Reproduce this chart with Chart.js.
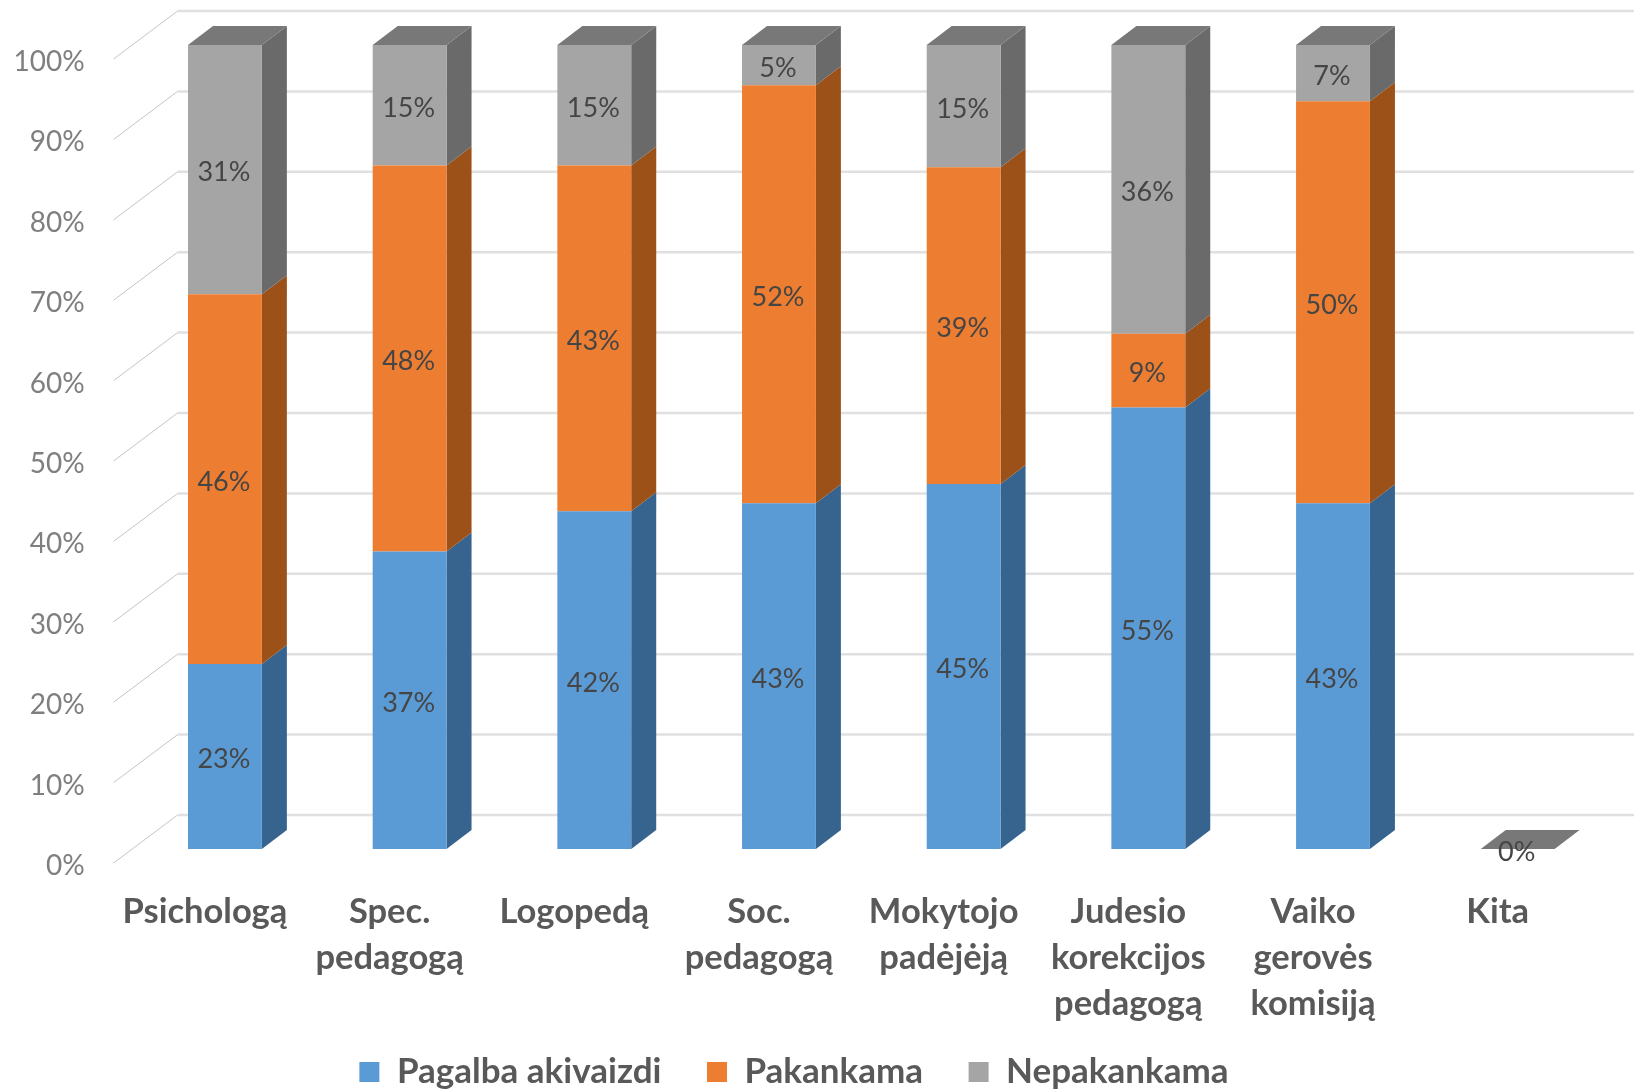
<!DOCTYPE html>
<html lang="lt">
<head>
<meta charset="UTF-8">
<title>Pagalba</title>
<script src="https://cdn.jsdelivr.net/npm/chart.js"></script>
<style>
    html, body { margin: 0; padding: 0; background: #fff; overflow: hidden; }
    canvas { display: block; }
</style>
</head>
<body>
<canvas id="chart" width="1634" height="1091"></canvas>
<script>
const categories = [
    'Psichologą',
    ['Spec.', 'pedagogą'],
    'Logopedą',
    ['Soc.', 'pedagogą'],
    ['Mokytojo', 'padėjėją'],
    ['Judesio', 'korekcijos', 'pedagogą'],
    ['Vaiko', 'gerovės', 'komisiją'],
    'Kita'
];
const pagalba     = [23, 37, 42, 43, 45.4, 54.9, 43, 0];
const pakankama   = [46, 48, 43, 52, 39.4, 9.2, 50, 0];
const nepakankama = [31, 15, 15, 5, 15.2, 35.9, 7, 0];

const seriesNames = ['Pagalba akivaizdi', 'Pakankama', 'Nepakankama'];
const frontColors = ['#5b9bd5', '#ed7d31', '#a5a5a5'];
const sideColors  = ['#37648f', '#9c5118', '#6a6a6a'];
const topColor = '#787878';

// 3D look: how far the bar depth goes, and where the walls sit relative to the bar front
const barDepth = { x: 25, y: -19 };
const wallFront = { x: -19, y: 14 };
const wallBack = { x: 45, y: -34 };

const font = 'Lato, Carlito, sans-serif';

function poly(ctx, pts, color) {
    ctx.fillStyle = color;
    ctx.beginPath();
    pts.forEach((p, i) => i ? ctx.lineTo(p[0], p[1]) : ctx.moveTo(p[0], p[1]));
    ctx.closePath();
    ctx.fill();
}

function noScalePadding(s) {
    s.paddingTop = 0;
    s.paddingBottom = 0;
    s.paddingLeft = 0;
    s.paddingRight = 0;
}

const fake3d = {
    id: 'fake3d',
    afterLayout(chart) {
        // legend is a bit left of the middle and sits higher than its box
        chart.legend.left -= 11;
        chart.legend.right -= 11;
        chart.legend.top -= 20;
    },
    beforeDatasetsDraw(chart) {
        const ctx = chart.ctx, y = chart.scales.y, area = chart.chartArea;
        ctx.save();
        y.ticks.forEach(t => {
            const py = y.getPixelForValue(t.value);
            const x0 = area.left + wallFront.x, x1 = area.left + wallBack.x;
            ctx.strokeStyle = '#c4c4c4';
            ctx.lineWidth = 1;
            ctx.beginPath();
            ctx.moveTo(x0, py + wallFront.y);
            ctx.lineTo(x1, py + wallBack.y);
            ctx.stroke();
            ctx.strokeStyle = '#e0e0e0';
            ctx.lineWidth = 2.5;
            ctx.beginPath();
            ctx.moveTo(x1, py + wallBack.y);
            ctx.lineTo(chart.width, py + wallBack.y);
            ctx.stroke();
        });
        // side and top faces, taken from the real bar elements
        chart.data.datasets.forEach((ds, d) => {
            chart.getDatasetMeta(d).data.forEach(bar => {
                const r = bar.x + bar.width / 2;
                if (Math.abs(bar.base - bar.y) < 0.5) return;
                poly(ctx, [[r, bar.y], [r + barDepth.x, bar.y + barDepth.y],
                    [r + barDepth.x, bar.base + barDepth.y], [r, bar.base]], sideColors[d]);
            });
        });
        const last = chart.data.datasets.length - 1;
        chart.getDatasetMeta(last).data.forEach(bar => {
            const l = bar.x - bar.width / 2, r = bar.x + bar.width / 2;
            poly(ctx, [[l, bar.y], [l + barDepth.x, bar.y + barDepth.y],
                [r + barDepth.x, bar.y + barDepth.y], [r, bar.y]], topColor);
        });
        ctx.restore();
    },
    afterDatasetsDraw(chart) {
        const ctx = chart.ctx;
        ctx.save();
        ctx.font = '27px ' + font;
        ctx.fillStyle = '#454545';
        ctx.textAlign = 'center';
        ctx.textBaseline = 'middle';
        chart.data.datasets.forEach((ds, d) => {
            chart.getDatasetMeta(d).data.forEach((bar, i) => {
                const v = ds.data[i];
                // empty category only gets one 0% label
                if (v === 0 && d !== 0) return;
                ctx.fillText(Math.round(v) + '%', bar.x - 1, (bar.y + bar.base) / 2 + 3);
            });
        });
        ctx.restore();
    }
};

new Chart(document.getElementById('chart'), {
    type: 'bar',
    data: {
        labels: categories,
        datasets: [pagalba, pakankama, nepakankama].map((vals, i) => ({
            label: seriesNames[i],
            data: vals,
            backgroundColor: frontColors[i],
            borderWidth: 0,
            barPercentage: 0.4,
            categoryPercentage: 1
        }))
    },
    plugins: [fake3d],
    options: {
        responsive: false,
        animation: false,
        layout: { padding: { top: 45, right: 24, left: 0, bottom: 0 } },
        scales: {
            x: {
                stacked: true,
                grid: { display: false, drawTicks: false },
                border: { display: false },
                afterFit: s => { s.height = 180; noScalePadding(s); },
                ticks: {
                    autoSkip: false,
                    maxRotation: 0,
                    minRotation: 0,
                    padding: 40,
                    labelOffset: -20,
                    color: '#595959',
                    font: { family: font, size: 34.5, weight: 'bold', lineHeight: 46 / 34.5 }
                }
            },
            y: {
                stacked: true,
                min: 0,
                max: 100,
                grid: { display: false, drawTicks: false },
                border: { display: false },
                afterFit: s => { s.width = 132.6; noScalePadding(s); },
                ticks: {
                    stepSize: 10,
                    padding: 48,
                    labelOffset: 17,
                    color: '#7f7f7f',
                    font: { family: font, size: 28 },
                    callback: v => v + '%'
                }
            }
        },
        plugins: {
            tooltip: { enabled: false },
            legend: {
                position: 'bottom',
                maxHeight: 62,
                labels: {
                    boxWidth: 20,
                    boxHeight: 20,
                    padding: 45.5,
                    color: '#595959',
                    font: { family: font, size: 35, weight: 'bold' }
                }
            }
        }
    }
});
</script>
</body>
</html>
